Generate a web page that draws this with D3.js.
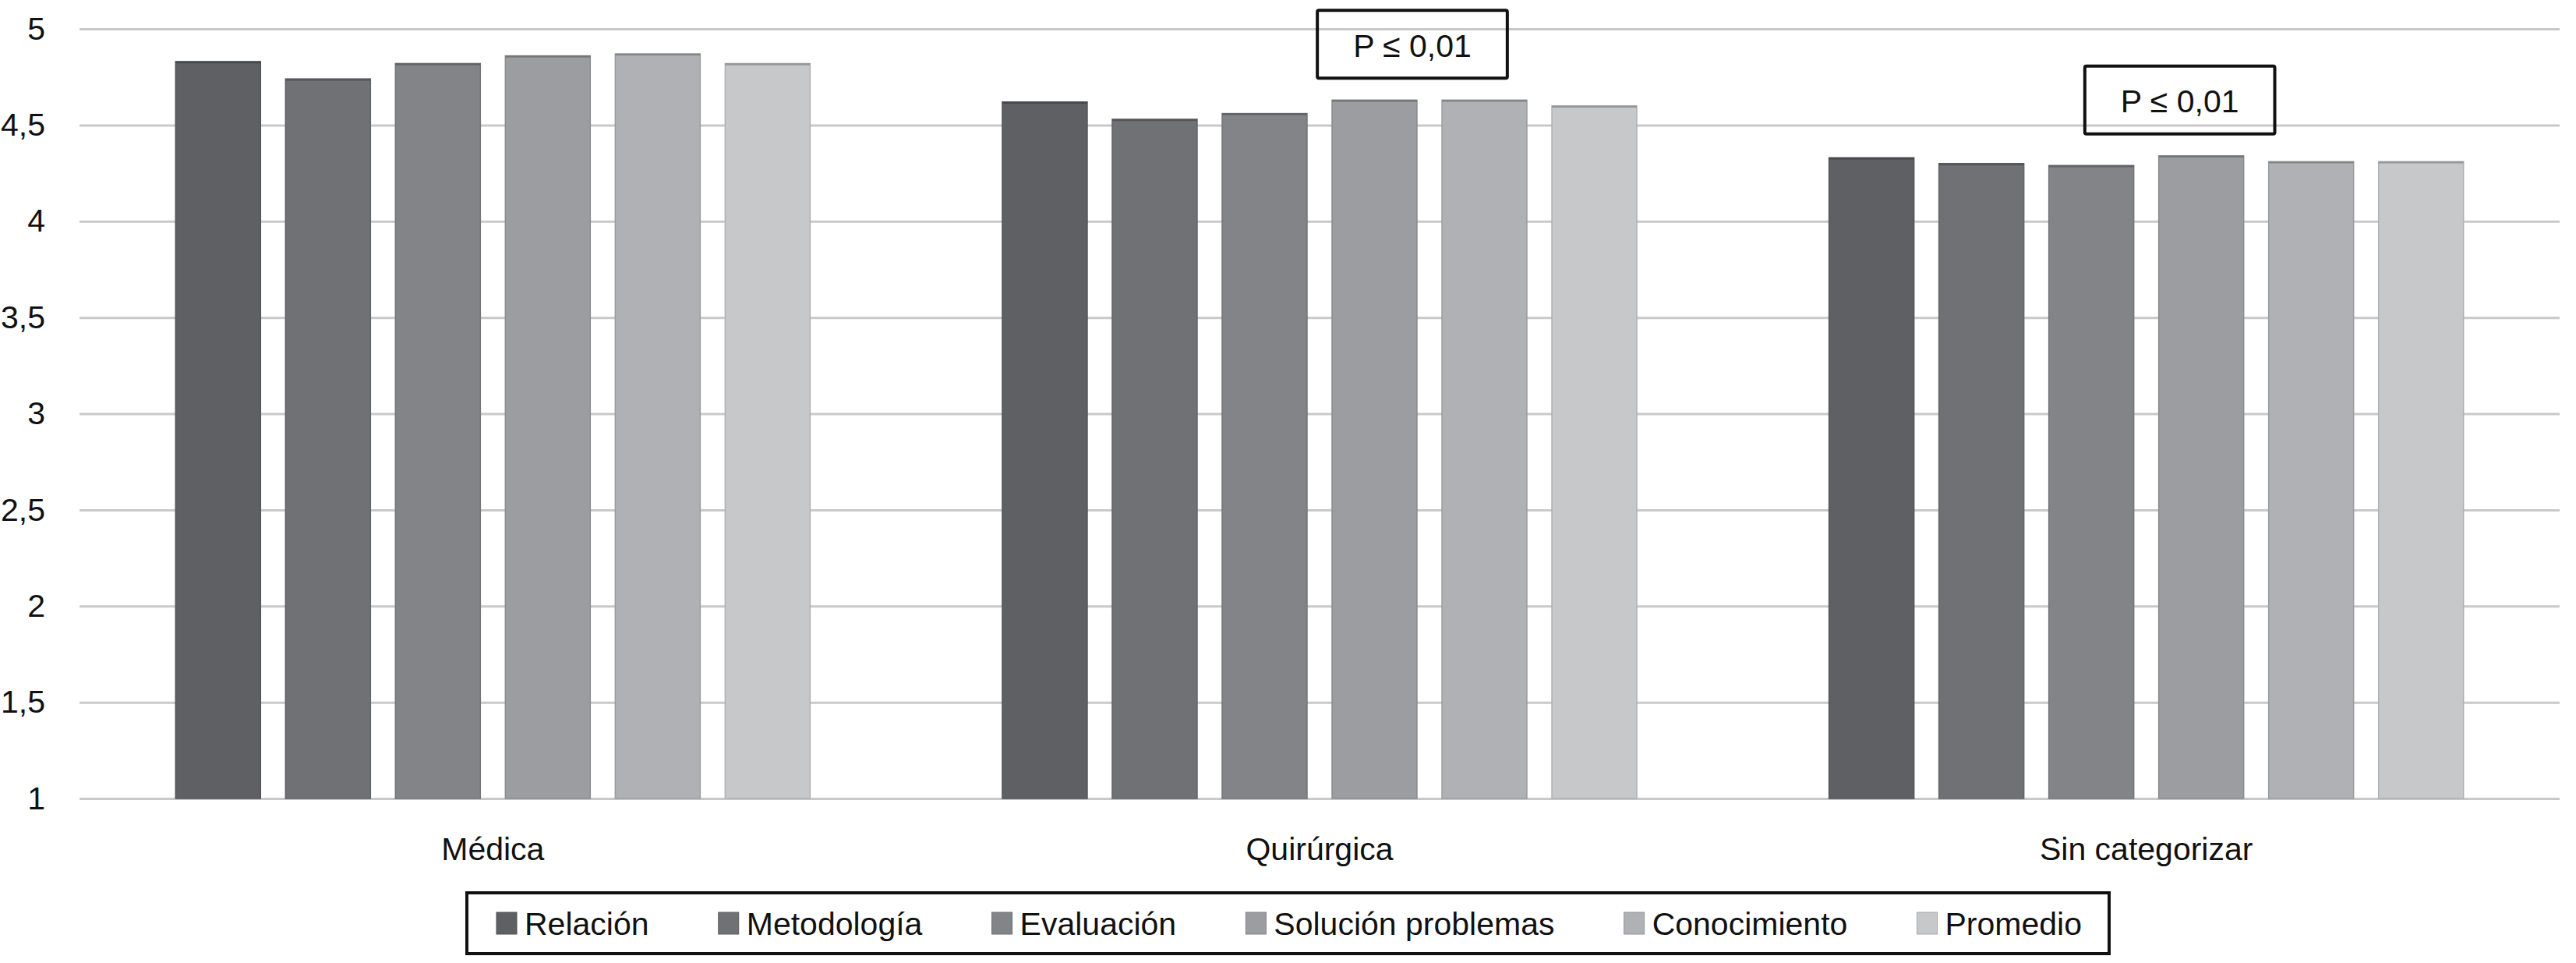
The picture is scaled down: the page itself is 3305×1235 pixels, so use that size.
<!DOCTYPE html>
<html>
<head>
<meta charset="utf-8">
<script src="https://cdn.jsdelivr.net/npm/d3@7"></script>
<style>
  html, body { margin: 0; padding: 0; background: #ffffff; }
  svg { display: block; font-family: "Liberation Sans", Arial, Helvetica, sans-serif; }
</style>
</head>
<body>
<svg id="chart" width="3305" height="1235"></svg>
<script>
// ---- data ----
const categories = ["Médica", "Quirúrgica", "Sin categorizar"];
const seriesNames = ["Relación", "Metodología", "Evaluación", "Solución problemas", "Conocimiento", "Promedio"];
const relacion     = [4.83, 4.62, 4.33];
const metodologia  = [4.74, 4.53, 4.30];
const evaluacion   = [4.82, 4.56, 4.29];
const solucion     = [4.86, 4.63, 4.34];
const conocimiento = [4.87, 4.63, 4.31];
const promedio     = [4.82, 4.60, 4.31];
const tickValues = [1, 1.5, 2, 2.5, 3, 3.5, 4, 4.5, 5];
const annotationCategories = ["Quirúrgica", "Sin categorizar"];
const annotationLabels = ["P ≤ 0,01", "P ≤ 0,01"];

const seriesValues = [relacion, metodologia, evaluacion, solucion, conocimiento, promedio];
const colors = ["#5f6064", "#707175", "#838488", "#9c9da0", "#b0b1b4", "#c7c8ca"];

// ---- layout ----
const W = 3305, H = 1235;
const plot = { left: 102, right: 3284, top: 37, bottom: 1024 };
const FONT = 41;

const svg = d3.select("#chart");

const y = d3.scaleLinear().domain([1, 5]).range([plot.bottom, plot.top]);
const x0 = d3.scaleBand().domain(categories).range([plot.left, plot.right])
  .paddingInner(0.2325).paddingOuter(0.11625);
const x1 = d3.scaleBand().domain(seriesNames).range([0, x0.bandwidth()])
  .paddingInner(0.227).paddingOuter(0);
const color = d3.scaleOrdinal().domain(seriesNames).range(colors);

// gridlines + y labels
const yAxis = d3.axisLeft(y).tickValues(tickValues)
  .tickSize(-(plot.right - plot.left)).tickPadding(44)
  .tickFormat(d => String(d).replace(".", ","));
const gy = svg.append("g").attr("transform", `translate(${plot.left},0)`).call(yAxis);
gy.select(".domain").remove();
gy.selectAll(".tick line").attr("stroke", "#c9c9c9").attr("stroke-width", 3);
gy.selectAll(".tick text").attr("font-size", FONT).attr("fill", "#111").attr("font-family", "Liberation Sans, Arial, sans-serif");

// bars
const rows = categories.map((c, i) => ({ cat: c, vals: seriesNames.map((s, j) => ({ s, v: seriesValues[j][i] })) }));
const groups = svg.append("g").selectAll("g").data(rows).join("g")
  .attr("transform", d => `translate(${x0(d.cat)},0)`);
groups.selectAll("rect").data(d => d.vals).join("rect")
  .attr("x", d => x1(d.s))
  .attr("y", d => y(d.v))
  .attr("width", x1.bandwidth())
  .attr("height", d => y(1) - y(d.v))
  .attr("fill", d => color(d.s))
  .attr("stroke", d => d3.color(color(d.s)).darker(0.35))
  .attr("stroke-width", 1.5);
groups.selectAll("line.top").data(d => d.vals).join("line")
  .attr("class", "top")
  .attr("x1", d => x1(d.s)).attr("x2", d => x1(d.s) + x1.bandwidth())
  .attr("y1", d => y(d.v) + 1).attr("y2", d => y(d.v) + 1)
  .attr("stroke", d => d3.color(color(d.s)).darker(0.8))
  .attr("stroke-width", 2.5);

// x axis labels
const xAxis = d3.axisBottom(x0).tickSize(0).tickPadding(50);
const gx = svg.append("g").attr("transform", `translate(0,${plot.bottom})`).call(xAxis);
gx.select(".domain").remove();
gx.selectAll(".tick text").attr("font-size", FONT).attr("fill", "#111").attr("font-family", "Liberation Sans, Arial, sans-serif");

// annotations (P boxes)
const annDx = [119, 43];
annotationCategories.forEach((cat, i) => {
  const idx = categories.indexOf(cat);
  const maxV = d3.max(seriesValues, s => s[idx]);
  const cx = x0(cat) + x0.bandwidth() / 2 + annDx[i];
  const bottom = y(maxV) - 28;
  const h = 87;
  const g = svg.append("g");
  const t = g.append("text").attr("x", cx).attr("y", bottom - h / 2 + 16)
    .attr("text-anchor", "middle").attr("font-size", FONT).attr("fill", "#111")
    .text(annotationLabels[i]);
  const w = t.node().getComputedTextLength() + 92;
  g.insert("rect", "text").attr("x", cx - w / 2).attr("y", bottom - h).attr("width", w).attr("height", h)
    .attr("fill", "none").attr("stroke", "#111").attr("stroke-width", 4).attr("rx", 2);
});

// legend
const legend = svg.append("g");
const lgBox = { x: 599, y: 1145, w: 2107, h: 78 };
legend.append("rect").attr("x", lgBox.x).attr("y", lgBox.y).attr("width", lgBox.w).attr("height", lgBox.h)
  .attr("fill", "#fff").attr("stroke", "#111").attr("stroke-width", 4);
const items = legend.selectAll("g.item").data(seriesNames).join("g").attr("class", "item");
items.append("rect").attr("width", 26).attr("height", 28).attr("y", lgBox.y + lgBox.h / 2 - 14)
  .attr("fill", d => color(d)).attr("stroke", d => d3.color(color(d)).darker(0.5)).attr("stroke-width", 1);
items.append("text").attr("y", lgBox.y + lgBox.h / 2 + 15).attr("font-size", FONT).attr("fill", "#111").text(d => d);
const startX = 637, endX = 2671, textOff = 36;
const widths = items.select("text").nodes().map(n => n.getComputedTextLength());
const used = d3.sum(widths) + textOff * seriesNames.length;
const gap = (endX - startX - used) / (seriesNames.length - 1);
let cur = startX;
items.each(function(d, i) {
  const g = d3.select(this);
  g.select("rect").attr("x", cur);
  g.select("text").attr("x", cur + textOff);
  cur += textOff + widths[i] + gap;
});
</script>
</body>
</html>
